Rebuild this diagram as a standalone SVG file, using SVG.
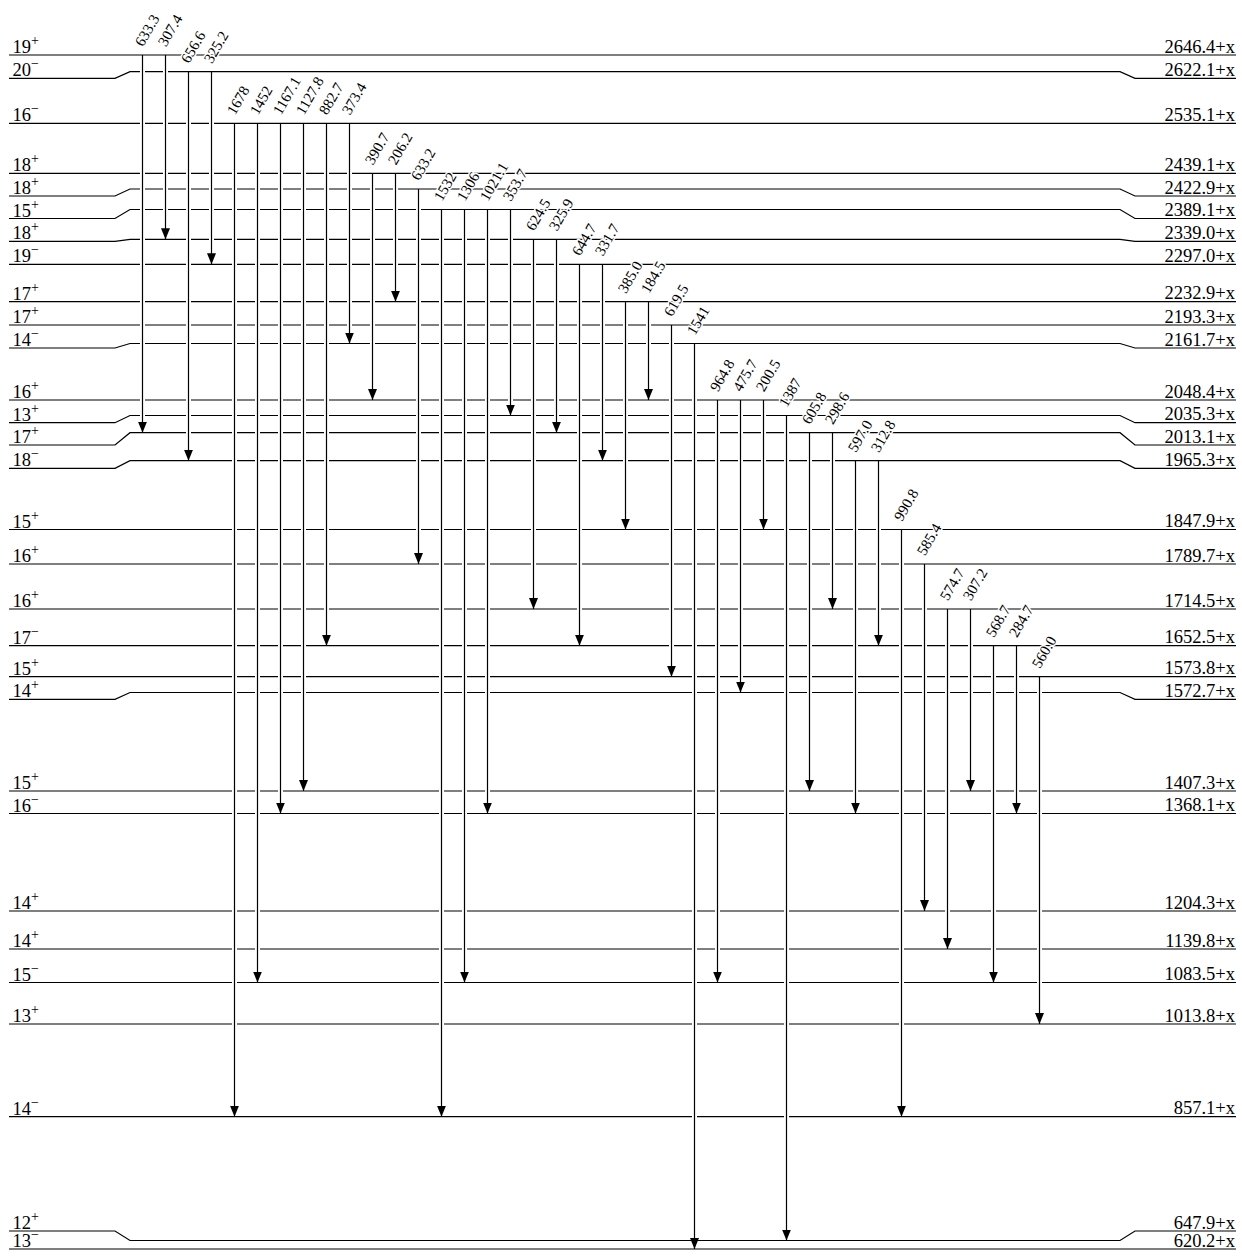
<svg xmlns="http://www.w3.org/2000/svg" width="1242" height="1258" viewBox="0 0 1242 1258">
<style>
.lv{fill:none;stroke:#000;stroke-width:1.2}
.sp{font-family:"Liberation Serif",serif;font-size:18.5px;fill:#000}
.en{font-family:"Liberation Serif",serif;font-size:18.5px;fill:#000;text-anchor:end}
.sup{font-size:14px}
.halo{stroke:#fff;stroke-width:5}
.tr{stroke:#000;stroke-width:1.2;marker-end:url(#ah)}
.gl{font-family:"Liberation Serif",serif;font-size:15px;fill:#000;stroke:#fff;stroke-width:3;paint-order:stroke;stroke-linejoin:round}
</style>
<defs>
<marker id="ah" markerUnits="userSpaceOnUse" markerWidth="11" markerHeight="9" viewBox="0 0 11 9" refX="11" refY="4.5" orient="auto">
<path d="M0,0 L11,4.5 L0,9 z" fill="#000"/>
</marker>
</defs>
<rect width="1242" height="1258" fill="#fff"/>
<g id="levels">
<g id="L2646"><path class="lv" d="M9,55 H1236"/><text class="sp" x="12.5" y="53">19<tspan class="sup" dy="-8">+</tspan></text><text class="en" x="1235" y="52.5">2646.4+x</text></g>
<g id="L2622"><path class="lv" d="M9,78.3 H115 L130,71.7 H1120 L1135,78.3 H1236"/><text class="sp" x="12.5" y="76.3">20<tspan class="sup" dy="-8">−</tspan></text><text class="en" x="1235" y="75.8">2622.1+x</text></g>
<g id="L2535"><path class="lv" d="M9,123.3 H1236"/><text class="sp" x="12.5" y="121.3">16<tspan class="sup" dy="-8">−</tspan></text><text class="en" x="1235" y="120.8">2535.1+x</text></g>
<g id="L2439"><path class="lv" d="M9,173.3 H1236"/><text class="sp" x="12.5" y="171.3">18<tspan class="sup" dy="-8">+</tspan></text><text class="en" x="1235" y="170.8">2439.1+x</text></g>
<g id="L2423"><path class="lv" d="M9,196 H115 L130,189 H1120 L1135,196 H1236"/><text class="sp" x="12.5" y="194">18<tspan class="sup" dy="-8">+</tspan></text><text class="en" x="1235" y="193.5">2422.9+x</text></g>
<g id="L2389"><path class="lv" d="M9,218.5 H115 L130,209.5 H1120 L1135,218.5 H1236"/><text class="sp" x="12.5" y="216.5">15<tspan class="sup" dy="-8">+</tspan></text><text class="en" x="1235" y="216">2389.1+x</text></g>
<g id="L2339"><path class="lv" d="M9,241.3 H115 L130,239.3 H1120 L1135,241.3 H1236"/><text class="sp" x="12.5" y="239.3">18<tspan class="sup" dy="-8">+</tspan></text><text class="en" x="1235" y="238.8">2339.0+x</text></g>
<g id="L2297"><path class="lv" d="M9,264.3 H1236"/><text class="sp" x="12.5" y="262.3">19<tspan class="sup" dy="-8">−</tspan></text><text class="en" x="1235" y="261.8">2297.0+x</text></g>
<g id="L2233"><path class="lv" d="M9,301.7 H1236"/><text class="sp" x="12.5" y="299.7">17<tspan class="sup" dy="-8">+</tspan></text><text class="en" x="1235" y="299.2">2232.9+x</text></g>
<g id="L2193"><path class="lv" d="M9,325 H1236"/><text class="sp" x="12.5" y="323">17<tspan class="sup" dy="-8">+</tspan></text><text class="en" x="1235" y="322.5">2193.3+x</text></g>
<g id="L2162"><path class="lv" d="M9,348 H115 L130,343.5 H1120 L1135,348 H1236"/><text class="sp" x="12.5" y="346">14<tspan class="sup" dy="-8">−</tspan></text><text class="en" x="1235" y="345.5">2161.7+x</text></g>
<g id="L2048"><path class="lv" d="M9,400 H1236"/><text class="sp" x="12.5" y="398">16<tspan class="sup" dy="-8">+</tspan></text><text class="en" x="1235" y="397.5">2048.4+x</text></g>
<g id="L2035"><path class="lv" d="M9,422.7 H115 L130,415.5 H1120 L1135,422.7 H1236"/><text class="sp" x="12.5" y="420.7">13<tspan class="sup" dy="-8">+</tspan></text><text class="en" x="1235" y="420.2">2035.3+x</text></g>
<g id="L2013"><path class="lv" d="M9,445 H115 L130,432.7 H1120 L1135,445 H1236"/><text class="sp" x="12.5" y="443">17<tspan class="sup" dy="-8">+</tspan></text><text class="en" x="1235" y="442.5">2013.1+x</text></g>
<g id="L1965"><path class="lv" d="M9,468.3 H115 L130,460.7 H1120 L1135,468.3 H1236"/><text class="sp" x="12.5" y="466.3">18<tspan class="sup" dy="-8">−</tspan></text><text class="en" x="1235" y="465.8">1965.3+x</text></g>
<g id="L1848"><path class="lv" d="M9,529.5 H1236"/><text class="sp" x="12.5" y="527.5">15<tspan class="sup" dy="-8">+</tspan></text><text class="en" x="1235" y="527">1847.9+x</text></g>
<g id="L1790"><path class="lv" d="M9,564 H1236"/><text class="sp" x="12.5" y="562">16<tspan class="sup" dy="-8">+</tspan></text><text class="en" x="1235" y="561.5">1789.7+x</text></g>
<g id="L1715"><path class="lv" d="M9,609 H1236"/><text class="sp" x="12.5" y="607">16<tspan class="sup" dy="-8">+</tspan></text><text class="en" x="1235" y="606.5">1714.5+x</text></g>
<g id="L1653"><path class="lv" d="M9,645.7 H1236"/><text class="sp" x="12.5" y="643.7">17<tspan class="sup" dy="-8">−</tspan></text><text class="en" x="1235" y="643.2">1652.5+x</text></g>
<g id="L1574"><path class="lv" d="M9,676.7 H1236"/><text class="sp" x="12.5" y="674.7">15<tspan class="sup" dy="-8">+</tspan></text><text class="en" x="1235" y="674.2">1573.8+x</text></g>
<g id="L1573"><path class="lv" d="M9,699.3 H115 L130,692.5 H1120 L1135,699.3 H1236"/><text class="sp" x="12.5" y="697.3">14<tspan class="sup" dy="-8">+</tspan></text><text class="en" x="1235" y="696.8">1572.7+x</text></g>
<g id="L1407"><path class="lv" d="M9,791 H1236"/><text class="sp" x="12.5" y="789">15<tspan class="sup" dy="-8">+</tspan></text><text class="en" x="1235" y="788.5">1407.3+x</text></g>
<g id="L1368"><path class="lv" d="M9,813.5 H1236"/><text class="sp" x="12.5" y="811.5">16<tspan class="sup" dy="-8">−</tspan></text><text class="en" x="1235" y="811">1368.1+x</text></g>
<g id="L1204"><path class="lv" d="M9,911 H1236"/><text class="sp" x="12.5" y="909">14<tspan class="sup" dy="-8">+</tspan></text><text class="en" x="1235" y="908.5">1204.3+x</text></g>
<g id="L1140"><path class="lv" d="M9,949 H1236"/><text class="sp" x="12.5" y="947">14<tspan class="sup" dy="-8">+</tspan></text><text class="en" x="1235" y="946.5">1139.8+x</text></g>
<g id="L1084"><path class="lv" d="M9,982.5 H1236"/><text class="sp" x="12.5" y="980.5">15<tspan class="sup" dy="-8">−</tspan></text><text class="en" x="1235" y="980">1083.5+x</text></g>
<g id="L1014"><path class="lv" d="M9,1024 H1236"/><text class="sp" x="12.5" y="1022">13<tspan class="sup" dy="-8">+</tspan></text><text class="en" x="1235" y="1021.5">1013.8+x</text></g>
<g id="L857"><path class="lv" d="M9,1116.7 H1236"/><text class="sp" x="12.5" y="1114.7">14<tspan class="sup" dy="-8">−</tspan></text><text class="en" x="1235" y="1114.2">857.1+x</text></g>
<g id="L648"><path class="lv" d="M9,1231 H115 L130,1240.5 H1120 L1135,1231 H1236"/><text class="sp" x="12.5" y="1229">12<tspan class="sup" dy="-8">+</tspan></text><text class="en" x="1235" y="1228.5">647.9+x</text></g>
<g id="L620"><path class="lv" d="M9,1249 H1236"/><text class="sp" x="12.5" y="1247">13<tspan class="sup" dy="-8">−</tspan></text><text class="en" x="1235" y="1246.5">620.2+x</text></g>
</g>
<g id="connectors">
<g id="halos" class="halo">
<line x1="142.5" y1="57" x2="142.5" y2="430.7"/>
<line x1="165.5" y1="57" x2="165.5" y2="237.3"/>
<line x1="188.5" y1="73.7" x2="188.5" y2="458.7"/>
<line x1="211.5" y1="73.7" x2="211.5" y2="262.3"/>
<line x1="234.5" y1="125.3" x2="234.5" y2="1114.7"/>
<line x1="257.5" y1="125.3" x2="257.5" y2="980.5"/>
<line x1="280.5" y1="125.3" x2="280.5" y2="811.5"/>
<line x1="303.5" y1="125.3" x2="303.5" y2="789"/>
<line x1="326.5" y1="125.3" x2="326.5" y2="643.7"/>
<line x1="349.5" y1="125.3" x2="349.5" y2="341.5"/>
<line x1="372.5" y1="175.3" x2="372.5" y2="398"/>
<line x1="395.5" y1="175.3" x2="395.5" y2="299.7"/>
<line x1="418.5" y1="191" x2="418.5" y2="562"/>
<line x1="441.5" y1="211.5" x2="441.5" y2="1114.7"/>
<line x1="464.5" y1="211.5" x2="464.5" y2="980.5"/>
<line x1="487.5" y1="211.5" x2="487.5" y2="811.5"/>
<line x1="510.5" y1="211.5" x2="510.5" y2="413.5"/>
<line x1="533.5" y1="241.3" x2="533.5" y2="607"/>
<line x1="556.5" y1="241.3" x2="556.5" y2="430.7"/>
<line x1="579.5" y1="266.3" x2="579.5" y2="643.7"/>
<line x1="602.5" y1="266.3" x2="602.5" y2="458.7"/>
<line x1="625.5" y1="303.7" x2="625.5" y2="527.5"/>
<line x1="648.5" y1="303.7" x2="648.5" y2="398"/>
<line x1="671.5" y1="327" x2="671.5" y2="674.7"/>
<line x1="694.5" y1="345.5" x2="694.5" y2="1247"/>
<line x1="717.5" y1="402" x2="717.5" y2="980.5"/>
<line x1="740.5" y1="402" x2="740.5" y2="690.5"/>
<line x1="763.5" y1="402" x2="763.5" y2="527.5"/>
<line x1="786.5" y1="417.5" x2="786.5" y2="1238.5"/>
<line x1="809.5" y1="434.7" x2="809.5" y2="789"/>
<line x1="832.5" y1="434.7" x2="832.5" y2="607"/>
<line x1="855.5" y1="462.7" x2="855.5" y2="811.5"/>
<line x1="878.5" y1="462.7" x2="878.5" y2="643.7"/>
<line x1="901.5" y1="531.5" x2="901.5" y2="1114.7"/>
<line x1="924.5" y1="566" x2="924.5" y2="909"/>
<line x1="947.5" y1="611" x2="947.5" y2="947"/>
<line x1="970.5" y1="611" x2="970.5" y2="789"/>
<line x1="993.5" y1="647.7" x2="993.5" y2="980.5"/>
<line x1="1016.5" y1="647.7" x2="1016.5" y2="811.5"/>
<line x1="1039.5" y1="678.7" x2="1039.5" y2="1022"/>
</g>
<g id="transitions" class="tr">
<line x1="142.5" y1="55" x2="142.5" y2="432.7"/>
<line x1="165.5" y1="55" x2="165.5" y2="239.3"/>
<line x1="188.5" y1="71.7" x2="188.5" y2="460.7"/>
<line x1="211.5" y1="71.7" x2="211.5" y2="264.3"/>
<line x1="234.5" y1="123.3" x2="234.5" y2="1116.7"/>
<line x1="257.5" y1="123.3" x2="257.5" y2="982.5"/>
<line x1="280.5" y1="123.3" x2="280.5" y2="813.5"/>
<line x1="303.5" y1="123.3" x2="303.5" y2="791"/>
<line x1="326.5" y1="123.3" x2="326.5" y2="645.7"/>
<line x1="349.5" y1="123.3" x2="349.5" y2="343.5"/>
<line x1="372.5" y1="173.3" x2="372.5" y2="400"/>
<line x1="395.5" y1="173.3" x2="395.5" y2="301.7"/>
<line x1="418.5" y1="189" x2="418.5" y2="564"/>
<line x1="441.5" y1="209.5" x2="441.5" y2="1116.7"/>
<line x1="464.5" y1="209.5" x2="464.5" y2="982.5"/>
<line x1="487.5" y1="209.5" x2="487.5" y2="813.5"/>
<line x1="510.5" y1="209.5" x2="510.5" y2="415.5"/>
<line x1="533.5" y1="239.3" x2="533.5" y2="609"/>
<line x1="556.5" y1="239.3" x2="556.5" y2="432.7"/>
<line x1="579.5" y1="264.3" x2="579.5" y2="645.7"/>
<line x1="602.5" y1="264.3" x2="602.5" y2="460.7"/>
<line x1="625.5" y1="301.7" x2="625.5" y2="529.5"/>
<line x1="648.5" y1="301.7" x2="648.5" y2="400"/>
<line x1="671.5" y1="325" x2="671.5" y2="676.7"/>
<line x1="694.5" y1="343.5" x2="694.5" y2="1249"/>
<line x1="717.5" y1="400" x2="717.5" y2="982.5"/>
<line x1="740.5" y1="400" x2="740.5" y2="692.5"/>
<line x1="763.5" y1="400" x2="763.5" y2="529.5"/>
<line x1="786.5" y1="415.5" x2="786.5" y2="1240.5"/>
<line x1="809.5" y1="432.7" x2="809.5" y2="791"/>
<line x1="832.5" y1="432.7" x2="832.5" y2="609"/>
<line x1="855.5" y1="460.7" x2="855.5" y2="813.5"/>
<line x1="878.5" y1="460.7" x2="878.5" y2="645.7"/>
<line x1="901.5" y1="529.5" x2="901.5" y2="1116.7"/>
<line x1="924.5" y1="564" x2="924.5" y2="911"/>
<line x1="947.5" y1="609" x2="947.5" y2="949"/>
<line x1="970.5" y1="609" x2="970.5" y2="791"/>
<line x1="993.5" y1="645.7" x2="993.5" y2="982.5"/>
<line x1="1016.5" y1="645.7" x2="1016.5" y2="813.5"/>
<line x1="1039.5" y1="676.7" x2="1039.5" y2="1024"/>
</g>
<g id="energies" class="gl">
<text transform="translate(143 47.5) rotate(-60)">633.3</text>
<text transform="translate(166 47.5) rotate(-60)">307.4</text>
<text transform="translate(189 64.2) rotate(-60)">656.6</text>
<text transform="translate(212 64.2) rotate(-60)">325.2</text>
<text transform="translate(235 115.8) rotate(-60)">1678</text>
<text transform="translate(258 115.8) rotate(-60)">1452</text>
<text transform="translate(281 115.8) rotate(-60)">1167.1</text>
<text transform="translate(304 115.8) rotate(-60)">1127.8</text>
<text transform="translate(327 115.8) rotate(-60)">882.7</text>
<text transform="translate(350 115.8) rotate(-60)">373.4</text>
<text transform="translate(373 165.8) rotate(-60)">390.7</text>
<text transform="translate(396 165.8) rotate(-60)">206.2</text>
<text transform="translate(419 181.5) rotate(-60)">633.2</text>
<text transform="translate(442 202) rotate(-60)">1532</text>
<text transform="translate(465 202) rotate(-60)">1306</text>
<text transform="translate(488 202) rotate(-60)">1021.1</text>
<text transform="translate(511 202) rotate(-60)">353.7</text>
<text transform="translate(534 231.8) rotate(-60)">624.5</text>
<text transform="translate(557 231.8) rotate(-60)">325.9</text>
<text transform="translate(580 256.8) rotate(-60)">644.7</text>
<text transform="translate(603 256.8) rotate(-60)">331.7</text>
<text transform="translate(626 294.2) rotate(-60)">385.0</text>
<text transform="translate(649 294.2) rotate(-60)">184.5</text>
<text transform="translate(672 317.5) rotate(-60)">619.5</text>
<text transform="translate(695 336) rotate(-60)">1541</text>
<text transform="translate(718 392.5) rotate(-60)">964.8</text>
<text transform="translate(741 392.5) rotate(-60)">475.7</text>
<text transform="translate(764 392.5) rotate(-60)">200.5</text>
<text transform="translate(787 408) rotate(-60)">1387</text>
<text transform="translate(810 425.2) rotate(-60)">605.8</text>
<text transform="translate(833 425.2) rotate(-60)">298.6</text>
<text transform="translate(856 453.2) rotate(-60)">597.0</text>
<text transform="translate(879 453.2) rotate(-60)">312.8</text>
<text transform="translate(902 522) rotate(-60)">990.8</text>
<text transform="translate(925 556.5) rotate(-60)">585.4</text>
<text transform="translate(948 601.5) rotate(-60)">574.7</text>
<text transform="translate(971 601.5) rotate(-60)">307.2</text>
<text transform="translate(994 638.2) rotate(-60)">568.7</text>
<text transform="translate(1017 638.2) rotate(-60)">284.7</text>
<text transform="translate(1040 669.2) rotate(-60)">560.0</text>
</g>
</g>
</svg>
